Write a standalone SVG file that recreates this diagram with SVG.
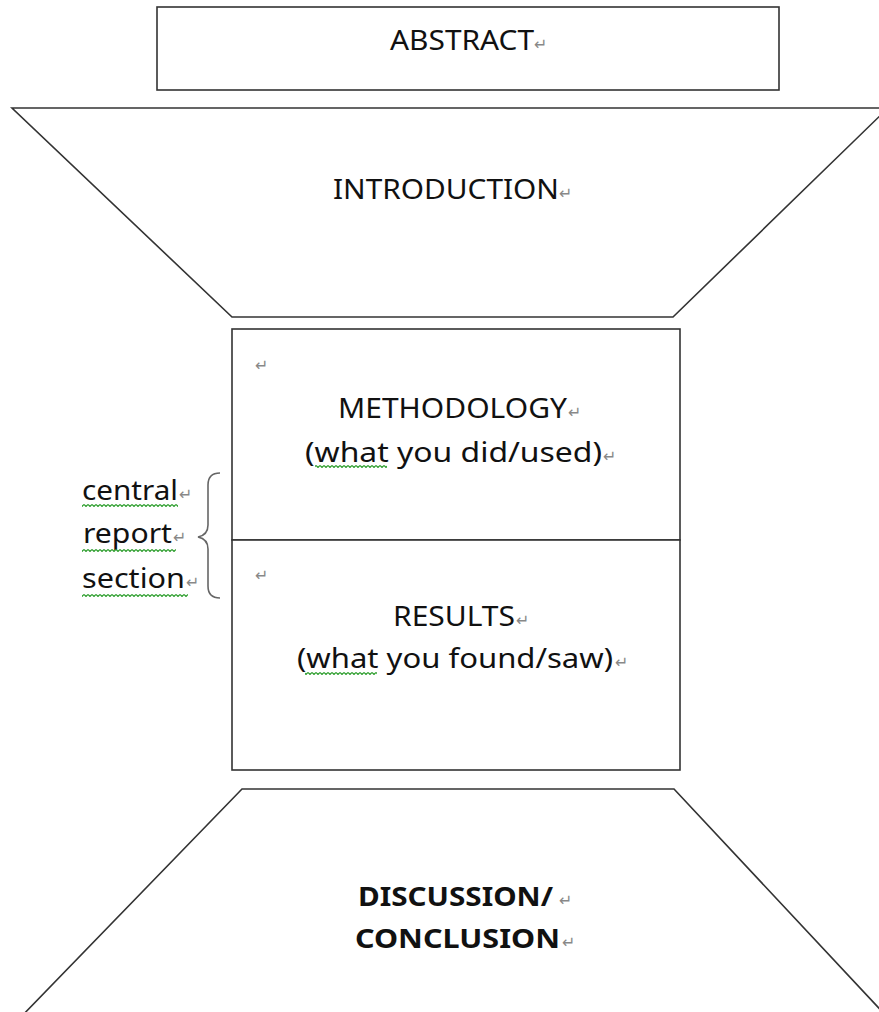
<svg xmlns="http://www.w3.org/2000/svg" width="879" height="1012" viewBox="0 0 879 1012">
<style>
.shape{fill:#fff;stroke:#333;stroke-width:1.6}
.t{font-family:"Noto Sans","Open Sans",sans-serif;fill:#111;font-size:28px}
.s{font-size:28px}
.b{font-weight:bold;font-size:27px}
.pm{font-family:"DejaVu Sans",sans-serif;fill:#888;font-size:16px}
.brace{fill:none;stroke:#666;stroke-width:1.6}
</style>
<defs>
<pattern id="wave" width="4" height="3" patternUnits="userSpaceOnUse">
<path d="M0 0.5 L2 2.5 L4 0.5" fill="none" stroke="#2e9e2e" stroke-width="1.2"/>
</pattern>
</defs>
<rect width="879" height="1012" fill="#fff"/>
<g id="abstract">
<rect class="shape" x="157" y="7" width="622" height="83"/>
<text class="t" x="390" y="50" textLength="144" lengthAdjust="spacingAndGlyphs">ABSTRACT</text>
<text class="pm" x="534" y="50">↵</text>
</g>
<g id="introduction">
<polygon class="shape" points="12,108 888,108 673,317 232,317"/>
<text class="t" x="333" y="199" textLength="226" lengthAdjust="spacingAndGlyphs" style="font-size:27px">INTRODUCTION</text>
<text class="pm" x="559" y="199">↵</text>
</g>
<g id="methodology">
<rect class="shape" x="232" y="329" width="448" height="211"/>
<text class="pm" x="255" y="371">↵</text>
<text class="t" x="338" y="418" textLength="229" lengthAdjust="spacingAndGlyphs">METHODOLOGY</text>
<text class="pm" x="568" y="418">↵</text>
<text class="t s" x="305" y="462" textLength="297" lengthAdjust="spacingAndGlyphs">(what you did/used)</text>
<text class="pm" x="603" y="462">↵</text>
<rect x="315" y="465" width="72" height="3" fill="url(#wave)"/>
</g>
<g id="results">
<rect class="shape" x="232" y="540" width="448" height="230"/>
<text class="pm" x="255" y="581">↵</text>
<text class="t" x="393" y="626" textLength="122" lengthAdjust="spacingAndGlyphs">RESULTS</text>
<text class="pm" x="516" y="626">↵</text>
<text class="t s" x="297" y="668" textLength="316" lengthAdjust="spacingAndGlyphs">(what you found/saw)</text>
<text class="pm" x="615" y="668">↵</text>
<rect x="305" y="672" width="72" height="3" fill="url(#wave)"/>
</g>
<g id="central-report-section">
<text class="t s" x="82" y="500" textLength="96" lengthAdjust="spacingAndGlyphs">central</text>
<text class="pm" x="179" y="500">↵</text>
<rect x="82" y="504" width="96" height="3" fill="url(#wave)"/>
<text class="t s" x="83" y="543" textLength="89" lengthAdjust="spacingAndGlyphs">report</text>
<text class="pm" x="173" y="543">↵</text>
<rect x="82" y="549" width="94" height="3" fill="url(#wave)"/>
<text class="t s" x="82" y="588" textLength="103" lengthAdjust="spacingAndGlyphs">section</text>
<text class="pm" x="186" y="588">↵</text>
<rect x="82" y="594" width="106" height="3" fill="url(#wave)"/>
<path class="brace" d="M220 473 Q208 473 208 485 L208 525 Q208 535 198 537 Q208 539 208 549 L208 586 Q208 598 220 598"/>
</g>
<g id="discussion">
<polygon class="shape" points="242,789 674,789 890,1020 18,1020"/>
<text class="t b" x="358" y="906" textLength="195" lengthAdjust="spacingAndGlyphs">DISCUSSION/</text>
<text class="pm" x="559" y="906">↵</text>
<text class="t b" x="355" y="948" textLength="205" lengthAdjust="spacingAndGlyphs">CONCLUSION</text>
<text class="pm" x="562" y="948">↵</text>
</g>
<g id="connectors"></g>
</svg>
